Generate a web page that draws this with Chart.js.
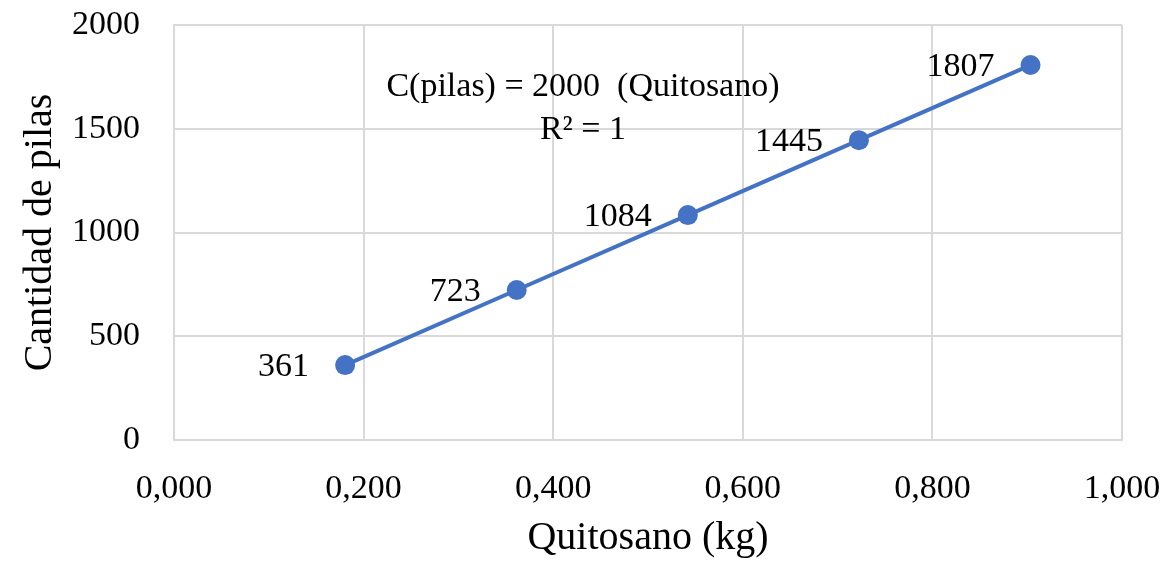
<!DOCTYPE html>
<html>
<head>
<meta charset="utf-8">
<script src="https://cdn.jsdelivr.net/npm/chart.js@4/dist/chart.umd.min.js"></script>
<style>
html,body{margin:0;padding:0;background:#fff;}
#wrap{width:1166px;height:562px;}
</style>
</head>
<body>
<div id="wrap"><canvas id="c" width="1166" height="562"></canvas></div>
<script>
const quitosano = [0.1805, 0.3615, 0.542, 0.7225, 0.9035];
const pilas = [361, 723, 1084, 1445, 1807];
const pointLabels = ['361', '723', '1084', '1445', '1807'];
const xTickLabels = ['0,000', '0,200', '0,400', '0,600', '0,800', '1,000'];
const yTickLabels = ['0', '500', '1000', '1500', '2000'];
const equationLines = ['C(pilas) = 2000  (Quitosano)', 'R² = 1'];
const equationAnchor = {x: 0.4314, y: [1701, 1494]};

const FONT = '"Liberation Serif", "Times New Roman", serif';
const GRID = '#d9d9d9';
const BLUE = '#4472C4';

const labelPlugin = {
  id: 'labels',
  afterDatasetsDraw(chart) {
    const ctx = chart.ctx;
    const meta = chart.getDatasetMeta(0);
    ctx.save();
    ctx.fillStyle = '#000';
    ctx.font = '34px ' + FONT;
    ctx.textAlign = 'right';
    ctx.textBaseline = 'middle';
    meta.data.forEach((pt, i) => {
      ctx.fillText(pointLabels[i], pt.x - 36, pt.y + 2);
    });
    const xs = chart.scales.x, ys = chart.scales.y;
    ctx.textAlign = 'center';
    equationLines.forEach((t, i) => {
      ctx.fillText(t, xs.getPixelForValue(equationAnchor.x), ys.getPixelForValue(equationAnchor.y[i]));
    });
    ctx.restore();
  }
};

function noOverflow(s) {
  s.paddingTop = 0; s.paddingBottom = 0; s.paddingLeft = 0; s.paddingRight = 0;
}

new Chart(document.getElementById('c'), {
  type: 'scatter',
  data: {
    datasets: [{
      data: quitosano.map((x, i) => ({x: x, y: pilas[i]})),
      showLine: true,
      borderColor: BLUE,
      backgroundColor: BLUE,
      borderWidth: 4,
      pointRadius: 10,
      pointHoverRadius: 10,
      pointBorderWidth: 0
    }]
  },
  options: {
    responsive: false,
    animation: false,
    layout: {padding: {top: 25, right: 44, bottom: 0, left: 0}},
    plugins: {legend: {display: false}, tooltip: {enabled: false}},
    scales: {
      x: {
        type: 'linear',
        min: 0, max: 1,
        afterFit(s) { s.height = 122; noOverflow(s); },
        afterBuildTicks(s) { s.ticks = xTickLabels.map((l, i) => ({value: i * 0.2})); },
        ticks: {
          callback: (v, i) => xTickLabels[i],
          font: {family: FONT, size: 34},
          color: '#000',
          padding: 29,
          maxRotation: 0
        },
        grid: {color: GRID, lineWidth: 2, drawTicks: false},
        border: {color: GRID, width: 2},
        title: {
          display: true,
          text: 'Quitosano (kg)',
          font: {family: FONT, size: 40},
          color: '#000',
          padding: {top: 0, bottom: 0}
        }
      },
      y: {
        min: 0, max: 2000,
        afterFit(s) { s.width = 174; noOverflow(s); },
        afterBuildTicks(s) { s.ticks = yTickLabels.map((l, i) => ({value: i * 500})); },
        ticks: {
          callback: (v, i) => yTickLabels[i],
          font: {family: FONT, size: 34},
          color: '#000',
          padding: 34
        },
        grid: {color: GRID, lineWidth: 2, drawTicks: false},
        border: {color: GRID, width: 2},
        title: {
          display: true,
          text: 'Cantidad de pilas',
          font: {family: FONT, size: 40},
          color: '#000',
          padding: {top: 16, bottom: 0}
        }
      }
    }
  },
  plugins: [labelPlugin]
});
</script>
</body>
</html>
